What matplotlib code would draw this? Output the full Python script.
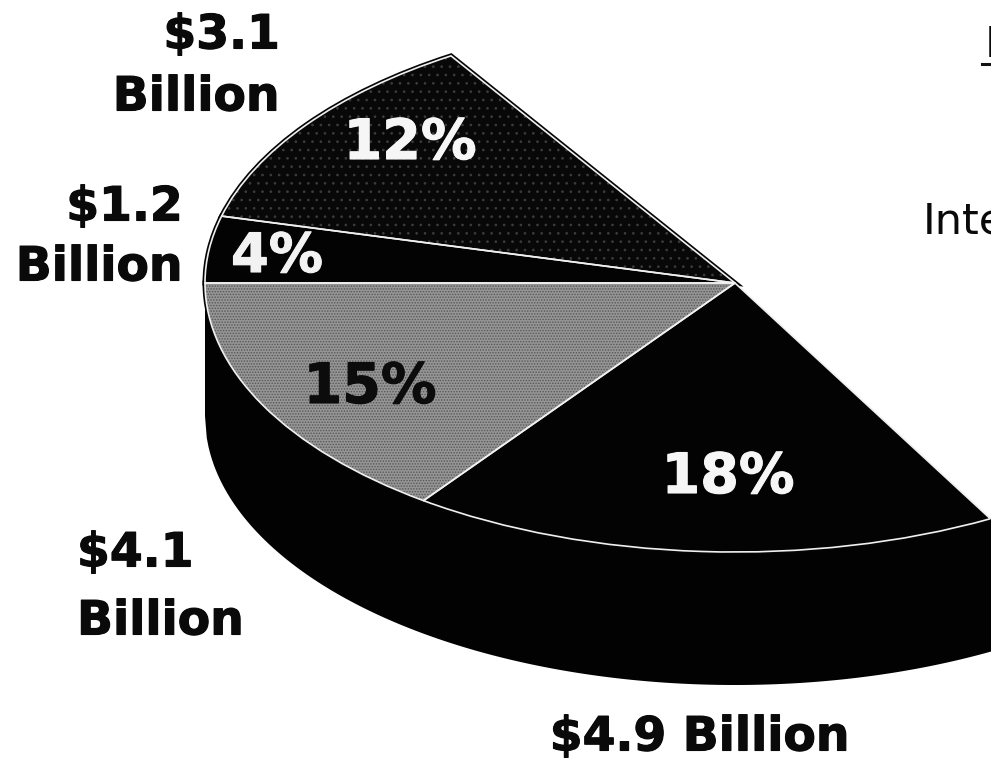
import numpy as np
import matplotlib
matplotlib.use("Agg")
import matplotlib.pyplot as plt
import matplotlib.patheffects as pe

# Shares of the pie, anticlockwise from the nine o'clock position
slice_names = ["15%", "18%", "rest", "12%", "4%"]
slice_shares = [15, 18, 51, 12, 4]
slice_faces = ["#959595", "#030303", "#ffffff", "#080808", "#030303"]
slice_grain = ["#565656", None, None, "#3c3c3c", None]

W, H = 991, 766
CX, CY = 735, 283      # pie centre in pixels
RX, RY = 530, 269      # radii of the tilted top face
DEPTH = 133 / RY       # thickness of the pie body in y units

plt.rcParams["font.family"] = ["DejaVu Sans"]
plt.rcParams["hatch.linewidth"] = 0.7

fig = plt.figure(figsize=(W / 100, H / 100), dpi=100, facecolor="white")
ax = fig.add_axes([0, 0, 1, 1])


def pie_layer(**kw):
    wedges, _ = ax.pie(slice_shares, startangle=180, counterclock=True,
                       radius=1, center=(0, 0), **kw)
    return wedges


# Body of the pie below the front rim
xs = np.linspace(-1, 1, 600)
rim = -np.sqrt(1 - xs ** 2)
ax.fill_between(xs, rim, rim - DEPTH, color="#020202", lw=0, zorder=0.5)

# Dark outline under everything except the open slice
base = pie_layer(colors=slice_faces,
                 wedgeprops=dict(edgecolor="#050505", linewidth=3.6))
for w, name in zip(base, slice_names):
    w.set_zorder(1)
    if name == "rest":
        w.set_edgecolor("none")

# Halftone grain on the lighter slices
texture = pie_layer(colors=slice_faces, wedgeprops=dict(linewidth=0))
for w, grain in zip(texture, slice_grain):
    w.set_zorder(2)
    if grain:
        w.set_edgecolor(grain)
        w.set_hatch("......" if grain == "#565656" else "..")
    elif w.get_facecolor()[0] > 0.9:
        w.set_visible(False)

# Thin white separators on top
lines = pie_layer(colors=["none"] * len(slice_shares),
                  wedgeprops=dict(edgecolor="#f0f0f0", linewidth=1.2))
for w, name in zip(lines, slice_names):
    w.set_zorder(3)
    if name == "rest":
        w.set_visible(False)

ax.set_xlim(-CX / RX, (W - CX) / RX)
ax.set_ylim(-(H - CY) / RY, CY / RY)
ax.set_aspect("auto")
ax.axis("off")


def label(x, y, s, ha="center", va="center", color="#0a0a0a",
          size=34, weight="bold", stroke=0.8):
    t = fig.text(x / W, 1 - y / H, s, ha=ha, va=va, color=color,
                 fontsize=size, fontweight=weight, zorder=10)
    if stroke:
        t.set_path_effects([pe.withStroke(linewidth=stroke, foreground=color)])
    return t


# Dollar amounts around the pie
label(280, 36, "$3.1", ha="right")
label(280, 98, "Billion", ha="right")
label(183, 208, "$1.2", ha="right")
label(183, 268, "Billion", ha="right")
label(77, 554, "$4.1", ha="left")
label(77, 622, "Billion", ha="left")
label(700, 738, "$4.9 Billion")

# Percentages printed on the slices
label(410, 144, "12%", color="#f6f6f6", size=40)
label(277, 257, "4%", color="#f2f2f2", size=39)
label(370, 388, "15%", color="#0c0c0c", size=40)
label(728, 478, "18%", color="#f6f6f6", size=40)

# Legend text running off the right edge
label(923, 222, "Inte", ha="left", weight="normal", size=31, stroke=0)
label(985, 45, "I", ha="left", weight="normal", size=31, stroke=0)
fig.add_artist(plt.Line2D([982 / W, 1], [1 - 64 / H] * 2, color="#111111",
                          lw=2.2, transform=fig.transFigure))

fig.savefig("out.png", dpi=100, facecolor="white")
